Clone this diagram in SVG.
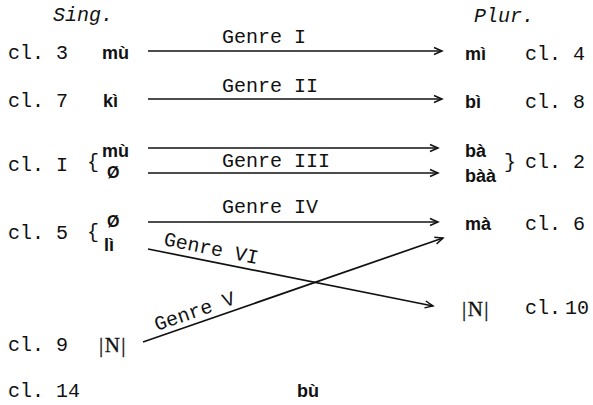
<svg xmlns="http://www.w3.org/2000/svg" width="593" height="405" viewBox="0 0 593 405">
<style>
.m{font-family:"Liberation Mono","DejaVu Sans Mono",monospace;font-size:20px;fill:#111}
.i{font-family:"Liberation Mono","DejaVu Sans Mono",monospace;font-size:20px;font-style:italic;fill:#111}
.w{font-family:"Liberation Sans","DejaVu Sans",sans-serif;font-size:18px;font-weight:bold;fill:#111}
.z{font-family:"Liberation Sans","DejaVu Sans",sans-serif;font-size:16px;font-weight:bold;fill:#111}
.n{font-family:"Liberation Serif","DejaVu Serif",serif;font-size:21px;fill:#111;stroke:#111;stroke-width:0.3;letter-spacing:1.5px}
.c{stroke:#111;stroke-width:1.7;fill:none}
</style>
<defs>
<marker id="ah" viewBox="-10 -5 12 10" markerWidth="12" markerHeight="10" refX="0" refY="0" orient="auto" markerUnits="userSpaceOnUse">
<path d="M-8,-3.5 L0,0 L-8,3.5" fill="none" stroke="#111" stroke-width="1.5"/>
</marker>
</defs>
<rect width="593" height="405" fill="#fff"/>
<g id="headers">
<text class="i" x="53" y="21">Sing.</text>
<text class="i" x="474" y="22">Plur.</text>
</g>
<g id="class-labels-left">
<text class="m" x="8" y="59">cl. 3</text>
<text class="m" x="8" y="107">cl. 7</text>
<text class="m" x="8" y="171">cl. I</text>
<text class="m" x="87" y="168">{</text>
<text class="m" x="8" y="239">cl. 5</text>
<text class="m" x="87" y="238">{</text>
<text class="m" x="8" y="351">cl. 9</text>
<text class="m" x="8" y="397">cl. 14</text>
</g>
<g id="sing-forms">
<text class="w" x="102" y="59">mù</text>
<text class="w" x="103" y="107">kì</text>
<text class="w" x="102" y="157">mù</text>
<text class="z" x="107" y="178">Ø</text>
<text class="z" x="107" y="227">Ø</text>
<text class="w" x="104" y="251">lì</text>
<text class="n" x="99" y="352">|N|</text>
</g>
<g id="plur-forms">
<text class="w" x="465" y="60">mì</text>
<text class="w" x="465" y="108">bì</text>
<text class="w" x="465" y="157">bà</text>
<text class="w" x="465" y="182">bàà</text>
<text class="m" x="504" y="168">}</text>
<text class="w" x="465" y="230">mà</text>
<text class="n" x="462" y="316">|N|</text>
<text class="w" x="297" y="397">bù</text>
</g>
<g id="class-labels-right">
<text class="m" x="525" y="60">cl. 4</text>
<text class="m" x="525" y="108">cl. 8</text>
<text class="m" x="525" y="168">cl. 2</text>
<text class="m" x="525" y="230">cl. 6</text>
<text class="m" x="525" y="314">cl.</text>
<text class="m" x="565" y="314">10</text>
</g>
<g id="connectors">
<line class="c" x1="148" y1="51" x2="442" y2="51" marker-end="url(#ah)"/>
<line class="c" x1="148" y1="99" x2="442" y2="99" marker-end="url(#ah)"/>
<line class="c" x1="148" y1="148" x2="438" y2="148" marker-end="url(#ah)"/>
<line class="c" x1="148" y1="173" x2="438" y2="173" marker-end="url(#ah)"/>
<line class="c" x1="148" y1="222" x2="438" y2="222" marker-end="url(#ah)"/>
<line class="c" x1="148" y1="249" x2="433" y2="306" marker-end="url(#ah)"/>
<line class="c" x1="143" y1="342" x2="443" y2="238" marker-end="url(#ah)"/>
</g>
<g id="connector-labels">
<text class="m" x="222" y="43">Genre I</text>
<text class="m" x="222" y="92">Genre II</text>
<text class="m" x="222" y="167">Genre III</text>
<text class="m" x="222" y="213">Genre IV</text>
<text class="m" x="163" y="245" transform="rotate(11.5 163 245)">Genre VI</text>
<text class="m" x="157" y="331" transform="rotate(-19 157 331)">Genre V</text>
</g>
</svg>
